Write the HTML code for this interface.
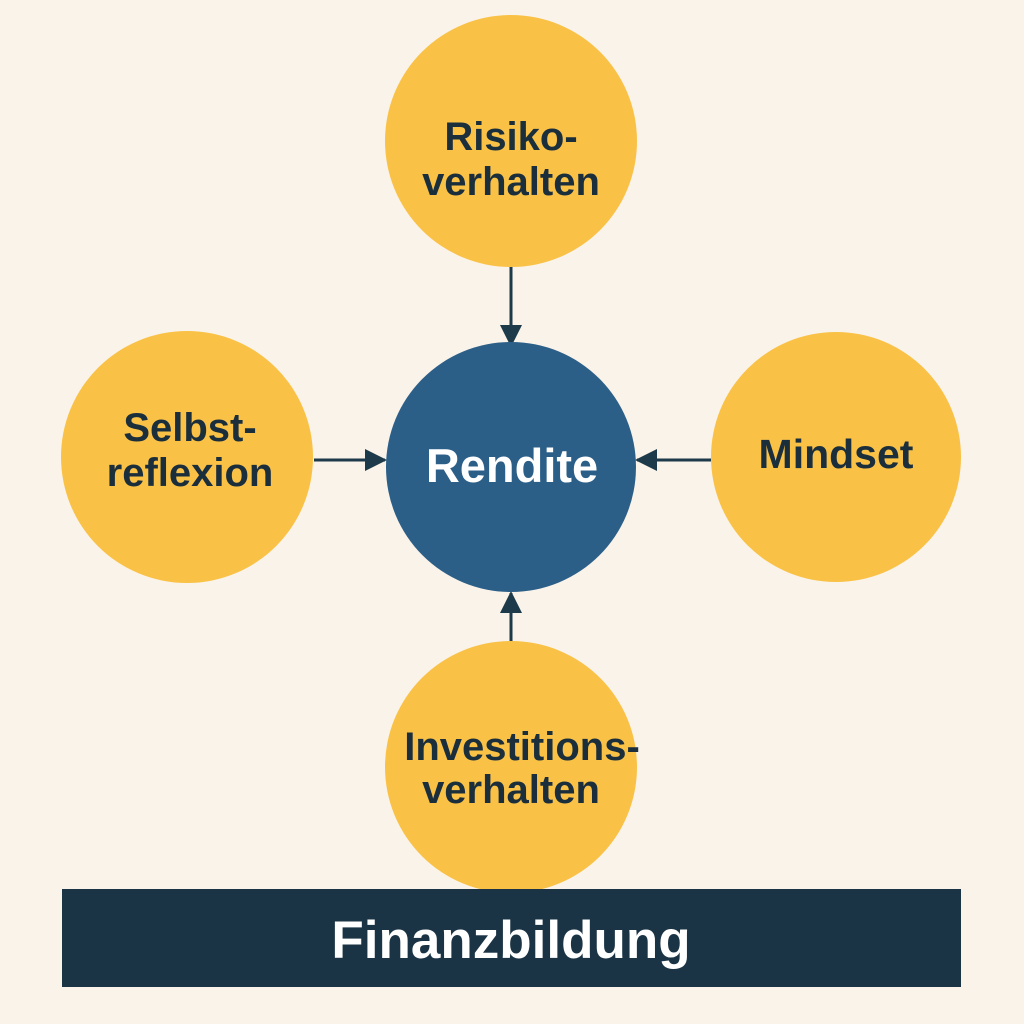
<!DOCTYPE html>
<html><head><style>
body{margin:0;background:#FAF3EA;}
svg{display:block}
text{font-family:"Liberation Sans",sans-serif;font-weight:bold;}
</style></head><body>
<svg width="1024" height="1024" viewBox="0 0 1024 1024">
<rect width="1024" height="1024" fill="#FAF3EA"/>
<defs><marker id="a" markerWidth="22" markerHeight="22" refX="20" refY="11" orient="auto" markerUnits="userSpaceOnUse" viewBox="0 0 22 22"><path d="M0,0 L22,11 L0,22 Z" fill="#1D3A4A"/></marker></defs>
<g stroke="#1D3A4A" stroke-width="3" fill="none">
<line x1="511" y1="266" x2="511" y2="345" marker-end="url(#a)" />
<line x1="314" y1="460" x2="385" y2="460" marker-end="url(#a)"/>
<line x1="711" y1="460" x2="637" y2="460" marker-end="url(#a)"/>
<line x1="511" y1="642" x2="511" y2="593" marker-end="url(#a)"/>
</g>
<g fill="#F9C247">
<circle cx="511" cy="141" r="126"/>
<circle cx="187" cy="457" r="126"/>
<circle cx="836" cy="457" r="125"/>
<circle cx="511" cy="767" r="126"/>
</g>
<circle cx="511" cy="467" r="125" fill="#2C5F88"/>
<rect x="62" y="889" width="899" height="98" fill="#1B3445"/>
<g fill="#1B2E3C" font-size="40" text-anchor="middle">
<text x="511" y="150">Risiko-</text>
<text x="511" y="195">verhalten</text>
<text x="190" y="441">Selbst-</text>
<text x="190" y="486">reflexion</text>
<text x="836" y="468" font-size="41">Mindset</text>
<text x="522" y="760">Investitions-</text>
<text x="511" y="803">verhalten</text>
</g>
<text x="512" y="482" font-size="47" fill="#fff" text-anchor="middle">Rendite</text>
<text x="511" y="958" font-size="53" fill="#fff" text-anchor="middle">Finanzbildung</text>
</svg>
</body></html>
